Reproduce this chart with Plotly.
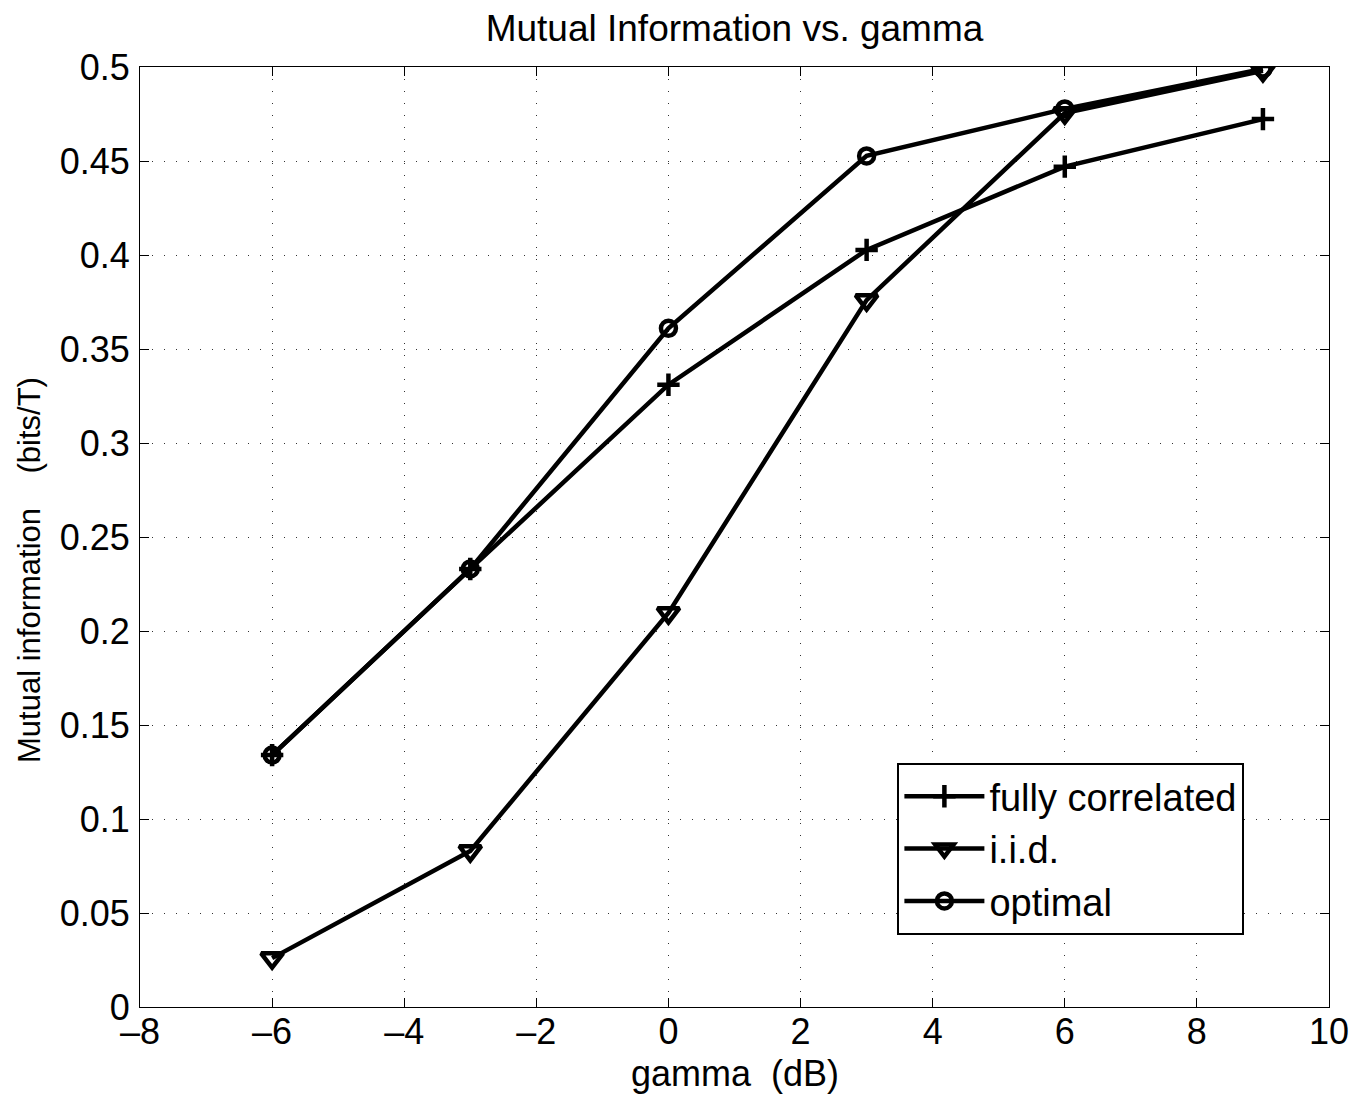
import plotly.graph_objects as go

gamma_db = [-6, -3, 0, 3, 6, 9]
fully_correlated = [0.134, 0.233, 0.331, 0.4027, 0.447, 0.4723]
iid = [0.026, 0.083, 0.2096, 0.376, 0.4755, 0.498]
optimal = [0.134, 0.233, 0.361, 0.4527, 0.4777, 0.499]

x_ticks = [-8, -6, -4, -2, 0, 2, 4, 6, 8, 10]
x_tick_labels = ["–8", "–6", "–4", "–2", "0", "2", "4", "6", "8", "10"]
y_ticks = [0, 0.05, 0.1, 0.15, 0.2, 0.25, 0.3, 0.35, 0.4, 0.45, 0.5]
y_tick_labels = ["0", "0.05", "0.1", "0.15", "0.2", "0.25", "0.3", "0.35", "0.4", "0.45", "0.5"]

font_family = "Liberation Sans, Arial, Helvetica, sans-serif"
FS = 36

fig = go.Figure()
series = [
    ("fully correlated", fully_correlated, "cross-thin-open", 16),
    ("i.i.d.", iid, "triangle-down-open", 19),
    ("optimal", optimal, "circle-open", 15),
]
for name, vals, sym, size in series:
    fig.add_trace(go.Scatter(
        x=gamma_db, y=vals, name=name, mode="lines+markers",
        line=dict(color="black", width=4.5),
        marker=dict(symbol=sym, size=size, color="black",
                    line=dict(color="black", width=4.5)),
    ))

axis_common = dict(
    showline=True, linecolor="black", linewidth=1, mirror="ticks",
    ticks="inside", ticklen=9, tickcolor="black", tickwidth=1,
    showgrid=True, gridcolor="#333", griddash="1px,11px", gridwidth=1,
    zeroline=False, automargin=False,
    tickfont=dict(size=FS, color="black", family=font_family),
)

fig.update_xaxes(range=[-8, 10], tickvals=x_ticks, ticktext=x_tick_labels,
                 ticklabelstandoff=-7, **axis_common)
fig.update_yaxes(range=[0, 0.5], tickvals=y_ticks, ticktext=y_tick_labels,
                 ticklabelstandoff=2, **axis_common)

fig.add_annotation(text="gamma\u00a0\u00a0(dB)", xref="paper", yref="paper",
                   x=0.5, y=-(1073 - 1007) / 940, xanchor="center", yanchor="middle",
                   showarrow=False, font=dict(size=FS, color="black", family=font_family))
fig.add_annotation(text="Mutual information\u00a0\u00a0\u00a0\u00a0(bits/T)", xref="paper", yref="paper",
                   x=(29 - 140) / 1189, y=(1007 - 570) / 940, xanchor="center", yanchor="middle",
                   textangle=-90,
                   showarrow=False, font=dict(size=31, color="black", family=font_family))

fig.update_layout(
    width=1367, height=1102,
    paper_bgcolor="white", plot_bgcolor="white",
    margin=dict(l=132, r=46, t=59, b=103),
    title=dict(text="Mutual Information vs. gamma", x=0.5, xref="paper", xanchor="center",
               y=1 - 20 / 1102, yref="container", yanchor="middle",
               font=dict(size=37, color="black", family=font_family)),
    font=dict(family=font_family, color="black"),
    legend=dict(x=0.637, y=0.2596, xanchor="left", yanchor="top",
                bgcolor="white", bordercolor="black", borderwidth=2,
                font=dict(size=38, color="black", family=font_family),
                itemwidth=80),
    showlegend=True,
)

fig.write_html("out.html")
